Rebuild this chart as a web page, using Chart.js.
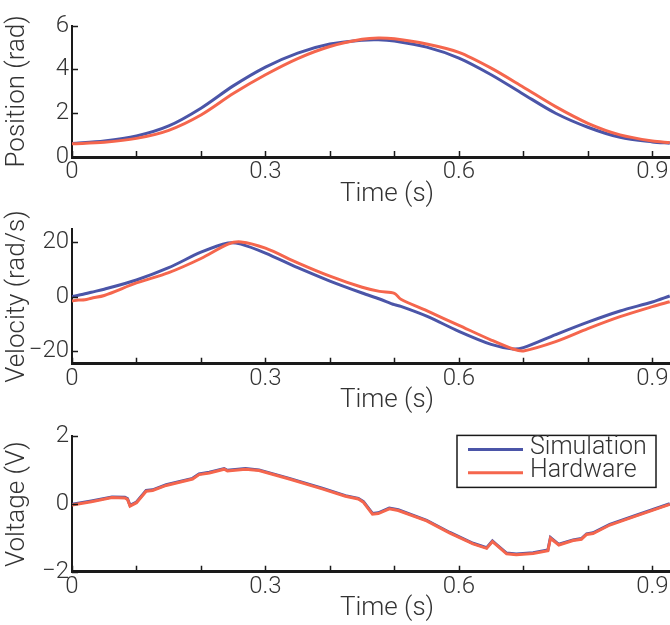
<!DOCTYPE html>
<html>
<head>
<meta charset="utf-8">
<script src="https://cdn.jsdelivr.net/npm/chart.js@4/dist/chart.umd.min.js"></script>
<style>
  html, body { margin: 0; padding: 0; background: #fff; overflow: hidden; }
  #wrap { position: relative; width: 670px; height: 625px; overflow: hidden; background: #fff; }
  canvas { position: absolute; left: 0; }
</style>
</head>
<body>
<div id="wrap">
  <canvas id="c1" width="702" height="212" style="top:0px"></canvas>
  <canvas id="c2" width="702" height="207" style="top:212px"></canvas>
  <canvas id="c3" width="702" height="206" style="top:419px"></canvas>
</div>
<script>
// ---- data ----
const seriesNames = ['Simulation', 'Hardware'];
const xTickLabels = ['0', '0.3', '0.6', '0.9'];

const posTime = [0, 0.05, 0.1, 0.15, 0.2, 0.25, 0.3, 0.35, 0.4, 0.45, 0.475, 0.5, 0.55, 0.6, 0.65, 0.7, 0.75, 0.8, 0.85, 0.9, 0.927];
const posSim  = [0.62, 0.73, 0.96, 1.42, 2.23, 3.25, 4.11, 4.75, 5.16, 5.34, 5.36, 5.30, 5.02, 4.52, 3.76, 2.87, 2.00, 1.36, 0.90, 0.69, 0.63];
const posHw   = [0.60, 0.67, 0.85, 1.22, 1.92, 2.90, 3.76, 4.50, 5.05, 5.38, 5.44, 5.40, 5.16, 4.78, 4.06, 3.19, 2.30, 1.54, 1.01, 0.73, 0.66];

const velTime = [0, 0.01, 0.02, 0.03, 0.05, 0.1, 0.15, 0.2, 0.242, 0.262, 0.3, 0.35, 0.4, 0.45, 0.477, 0.5, 0.51, 0.55, 0.6, 0.65, 0.684, 0.7, 0.75, 0.8, 0.85, 0.9, 0.927];
const velSim  = [0.0, 0.5, 1.0, 1.6, 2.7, 6.1, 10.6, 16.3, 19.7, 19.3, 16.0, 10.6, 5.7, 1.3, -0.9, -3.0, -3.6, -7.2, -12.8, -17.6, -19.3, -18.8, -14.0, -9.4, -5.3, -2.0, 0.2];
const velHw   = [-1.6, -1.3, -1.2, -0.6, 0.4, 5.0, 8.8, 14.0, 19.3, 20.1, 17.8, 12.4, 7.5, 3.4, 1.9, 1.2, -1.0, -5.2, -10.6, -16.0, -19.3, -20.0, -16.6, -11.8, -7.4, -3.7, -1.9];

const voltTime = [0, 0.03, 0.062, 0.082, 0.086, 0.09, 0.1, 0.115, 0.125, 0.146, 0.187, 0.197, 0.213, 0.236, 0.241, 0.269, 0.29, 0.337, 0.388, 0.424, 0.444, 0.452, 0.466, 0.475, 0.492, 0.506, 0.55, 0.586, 0.622, 0.643, 0.652, 0.658, 0.674, 0.689, 0.715, 0.738, 0.742, 0.755, 0.777, 0.79, 0.798, 0.808, 0.834, 0.875, 0.927];
const voltSim  = [-0.01, 0.09, 0.21, 0.20, 0.16, -0.04, 0.06, 0.40, 0.42, 0.57, 0.76, 0.89, 0.94, 1.05, 1.00, 1.05, 1.01, 0.76, 0.47, 0.25, 0.17, 0.07, -0.28, -0.26, -0.12, -0.17, -0.48, -0.84, -1.16, -1.29, -1.09, -1.19, -1.45, -1.48, -1.44, -1.36, -0.99, -1.19, -1.06, -1.02, -0.88, -0.85, -0.60, -0.33, 0.01];
const voltHw   = [-0.03, 0.07, 0.19, 0.18, 0.14, -0.06, 0.04, 0.38, 0.40, 0.55, 0.74, 0.87, 0.92, 1.03, 0.98, 1.03, 0.99, 0.74, 0.45, 0.23, 0.15, 0.05, -0.30, -0.28, -0.14, -0.19, -0.50, -0.86, -1.18, -1.31, -1.11, -1.21, -1.47, -1.50, -1.46, -1.38, -1.01, -1.21, -1.08, -1.04, -0.90, -0.87, -0.62, -0.35, -0.01];

const posTicks = [0, 2, 4, 6];
const velTicks = [-20, 0, 20];
const voltTicks = [-2, 0, 2];

// ---- styling ----
const BLUE = '#4b55a8';
const RED = '#f5664d';
const TXT = '#333333';
const FONT = 'Roboto, "Liberation Sans", sans-serif';
const WEIGHT = '300';

function pts(xs, ys) { return xs.map((x, i) => ({ x: x, y: ys[i] })); }

const inwardTicks = {
  id: 'inwardTicks',
  afterDatasetsDraw(chart) {
    const ctx = chart.ctx, a = chart.chartArea;
    const xs = chart.scales.x, ys = chart.scales.y;
    ctx.save();
    ctx.strokeStyle = '#1a1a1a';
    ctx.lineWidth = 1.5;
    ctx.beginPath();
    xs.ticks.forEach(t => {
      const px = Math.round(xs.getPixelForValue(t.value)) + 0.5;
      ctx.moveTo(px, a.bottom);
      ctx.lineTo(px, a.bottom - 6);
    });
    ys.ticks.forEach(t => {
      const py = Math.round(ys.getPixelForValue(t.value)) + 0.5;
      ctx.moveTo(a.left, py);
      ctx.lineTo(a.left + 6, py);
    });
    ctx.stroke();
    ctx.restore();
  }
};

const boxLegend = {
  id: 'boxLegend',
  afterDraw(chart, args, opts) {
    if (!opts || !opts.show) return;
    const ctx = chart.ctx, a = chart.chartArea;
    const left = a.left + 385, top = a.top - 1, w = 199, h = 52;
    ctx.save();
    ctx.fillStyle = '#fff';
    ctx.fillRect(left, top, w, h);
    ctx.strokeStyle = '#1a1a1a';
    ctx.lineWidth = 1.5;
    ctx.strokeRect(left, top, w, h);
    ctx.font = WEIGHT + ' 25px ' + FONT;
    ctx.textBaseline = 'middle';
    ctx.textAlign = 'left';
    chart.data.datasets.forEach((ds, i) => {
      const y = top + 14 + i * 23.4;
      ctx.strokeStyle = ds.borderColor;
      ctx.lineWidth = 3;
      ctx.beginPath();
      ctx.moveTo(left + 11, y);
      ctx.lineTo(left + 66, y);
      ctx.stroke();
      ctx.fillStyle = TXT;
      ctx.fillText(ds.label, left + 73, y - 2);
    });
    ctx.restore();
  }
};

function makeChart(id, cfg) {
  const canvas = document.getElementById(id);
  const H = canvas.height;
  return new Chart(canvas, {
    type: 'line',
    data: {
      datasets: [
        { label: seriesNames[0], data: pts(cfg.time, cfg.sim), borderColor: BLUE, borderWidth: 3, pointRadius: 0, fill: false, order: 1, tension: cfg.tension },
        { label: seriesNames[1], data: pts(cfg.time, cfg.hw), borderColor: RED, borderWidth: 3, pointRadius: 0, fill: false, order: 0, tension: cfg.tension }
      ]
    },
    options: {
      responsive: false,
      animation: false,
      devicePixelRatio: 1,
      layout: { padding: { top: cfg.areaTop, left: 0, right: 0, bottom: 0 } },
      plugins: { legend: { display: false }, tooltip: { enabled: false }, boxLegend: { show: !!cfg.legend } },
      scales: {
        x: {
          type: 'linear', min: 0, max: 0.977,
          grid: { display: false, drawTicks: false },
          border: { display: true, color: '#1a1a1a', width: 3 },
          ticks: {
            stepSize: 0.1, includeBounds: false, autoSkip: false, maxRotation: 0, minRotation: 0,
            padding: 1, color: TXT, font: { family: FONT, size: 24, weight: WEIGHT },
            callback: (v) => {
              const k = Math.round(v / 0.3);
              return Math.abs(v - k * 0.3) < 1e-6 ? xTickLabels[k] : '';
            }
          },
          title: { display: true, text: 'Time (s)', color: TXT, font: { family: FONT, size: 26, lineHeight: 1, weight: WEIGHT }, padding: { top: 0, bottom: cfg.titlePad } },
          afterFit: (s) => { s.height = H - cfg.areaBottom; }
        },
        y: {
          type: 'linear', min: cfg.ymin, max: cfg.ymax,
          afterBuildTicks: (s) => { s.ticks = cfg.yticks.map(v => ({ value: v })); },
          grid: { display: false, drawTicks: false },
          border: { display: true, color: '#1a1a1a', width: 2 },
          ticks: {
            padding: 3, color: TXT, font: { family: FONT, size: 24, weight: WEIGHT },
            callback: (v) => v < 0 ? '\u2212' + Math.abs(v) : String(v)
          },
          title: { display: true, text: cfg.ytitle, color: TXT, font: { family: FONT, size: 26, lineHeight: 1, weight: WEIGHT }, padding: { top: 4, bottom: 0 } },
          afterFit: (s) => { s.width = 72; }
        }
      }
    },
    plugins: [inwardTicks, boxLegend]
  });
}

makeChart('c1', { time: posTime, sim: posSim, hw: posHw, ymin: 0, ymax: 6, yticks: posTicks, ytitle: 'Position (rad)', areaTop: 25.7, areaBottom: 157, titlePad: 5, tension: 0.3 });
makeChart('c2', { time: velTime, sim: velSim, hw: velHw, ymin: -24.7, ymax: 24.7, yticks: velTicks, ytitle: 'Velocity (rad/s)', areaTop: 15.7, areaBottom: 151.7, titlePad: 5.3, tension: 0.3 });
makeChart('c3', { time: voltTime, sim: voltSim, hw: voltHw, ymin: -2, ymax: 2, yticks: voltTicks, ytitle: 'Voltage (V)', areaTop: 16, areaBottom: 152.7, titlePad: 3.5, tension: 0, legend: true });
</script>
</body>
</html>
